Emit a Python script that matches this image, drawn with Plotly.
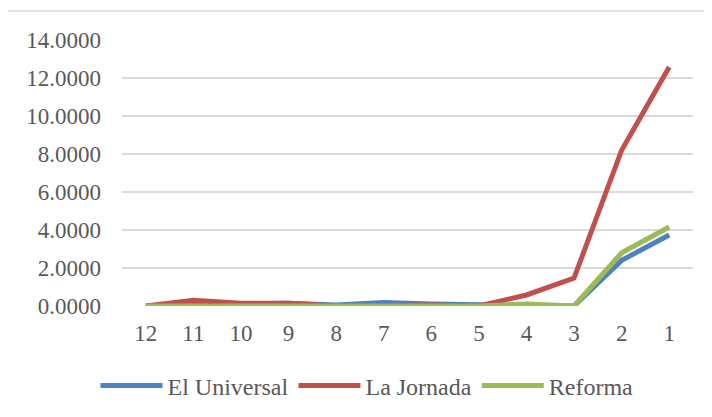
import plotly.graph_objects as go

categories = ["12", "11", "10", "9", "8", "7", "6", "5", "4", "3", "2", "1"]
el_universal = [0.0, 0.05, 0.08, 0.15, 0.05, 0.18, 0.1, 0.05, 0.0, 0.0, 2.4, 3.74]
la_jornada = [0.0, 0.3, 0.15, 0.15, 0.0, 0.05, 0.05, 0.0, 0.58, 1.47, 8.2, 12.58]
reforma = [0.0, 0.0, 0.0, 0.0, 0.05, 0.0, 0.0, 0.0, 0.1, 0.0, 2.8, 4.16]
y_ticks = [0, 2, 4, 6, 8, 10, 12, 14]

series = [
    ("El Universal", el_universal, "#4F81BD"),
    ("La Jornada", la_jornada, "#C0504D"),
    ("Reforma", reforma, "#9BBB59"),
]

FONT = "Liberation Serif"
TEXT = "#595959"

fig = go.Figure()
for name, values, color in series:
    fig.add_trace(go.Scatter(
        x=categories, y=values, name=name, mode="lines",
        line=dict(color=color, width=5),
    ))

fig.update_xaxes(
    type="category", range=[-0.5, 11.5], showgrid=False, zeroline=False,
    showline=False, ticks="", ticklabelstandoff=11,
    tickfont=dict(family=FONT, size=23, color=TEXT),
)
fig.update_yaxes(
    range=[0, 14], tickvals=y_ticks,
    ticktext=[f"{v:.4f}" for v in y_ticks],
    showgrid=True, gridcolor="#D9D9D9", gridwidth=1.5,
    zeroline=False, showline=False, ticks="", ticklabelstandoff=20,
    tickfont=dict(family=FONT, size=23, color=TEXT),
)

# outer chart border (right and bottom run past the picture)
fig.add_shape(type="rect", xref="paper", yref="paper",
              x0=-117 / 571, x1=1.2, y0=-0.6, y1=(306 - 11) / 266,
              line=dict(color="#D9D9D9", width=1.5), fillcolor="rgba(0,0,0,0)")

# the page body adds an 8px offset, so margins are shifted back by 8px
fig.update_layout(
    width=712, height=417,
    margin=dict(l=114, r=27, t=32, b=119, autoexpand=False),
    paper_bgcolor="white", plot_bgcolor="white",
    font=dict(family=FONT, color=TEXT),
    showlegend=True,
    legend=dict(
        orientation="h", xanchor="center", yanchor="middle",
        x=(367 - 122) / 571, y=-(386 - 306) / 266,
        font=dict(family=FONT, size=24, color=TEXT),
        itemwidth=62, tracegroupgap=0,
    ),
)

fig.write_html("out.html")
